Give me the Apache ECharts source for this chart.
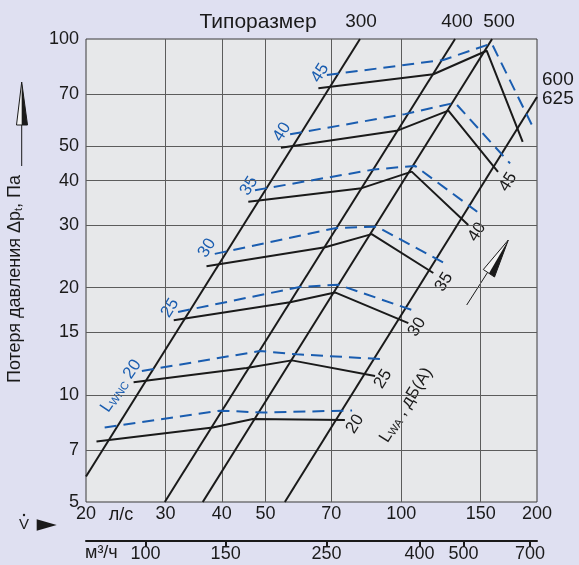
<!DOCTYPE html>
<html>
<head>
<meta charset="utf-8" />
<style>
  html, body { margin: 0; padding: 0; background: #dfe0f1; }
  #chart { width: 579px; height: 565px; }
</style>
<script src="https://cdn.jsdelivr.net/npm/echarts@6/dist/echarts.min.js"></script>
</head>
<body>
<div id="chart"></div>
<script>
// axes: volume flow in l/s (log), pressure loss in Pa (log)
var xTicks = [20, 30, 40, 50, 70, 100, 150, 200];
var yTicks = [5, 7, 10, 15, 20, 30, 40, 50, 70, 100];
var xGrid = [30, 40, 50, 70, 100, 150];
var yGrid = [7, 10, 15, 20, 30, 40, 50, 70];
var m3hTicks = [100, 150, 250, 400, 500, 700];

// size lines (Типоразмер), [l/s, Pa]
var size300 = [[20, 5.9], [81, 100]];
var size400 = [[29.9, 5], [131.6, 100]];
var size500 = [[36.3, 5], [159, 100]];
var size625 = [[55.2, 5], [200, 68.7]];

// sound power L_WA, dB(A) - solid lines
var lwa20 = [[21.1, 7.4], [38.2, 8.1], [46.9, 8.55], [75, 8.5]];
var lwa25 = [[25.5, 10.85], [45.4, 11.9], [57.2, 12.5], [87.5, 11.3]];
var lwa30 = [[31.3, 16.2], [56.7, 18.2], [71.3, 19.4], [103.7, 15.9]];
var lwa35 = [[37, 23], [67.8, 26], [86, 28.3], [117.8, 22]];
var lwa40 = [[45.8, 34.9], [81.7, 38.1], [105.5, 42.4], [140.8, 30]];
var lwa45 = [[54.1, 49.5], [97.7, 55.2], [127.2, 62.9], [163.9, 42.3]];
var lwa50 = [[65.5, 72.7], [117.8, 79.6], [154.7, 92.7], [185.9, 51.4]];

// L_WNC - dashed lines
var nc15 = [[22, 8.1], [39.6, 9.03], [49.4, 8.92], [77.8, 9.04]];
var nc20 = [[26.6, 11.67], [48.6, 13.28], [58.7, 13], [91.2, 12.6]];
var nc25 = [[32, 17.1], [59.6, 20.1], [72.5, 20.4], [107.3, 17.2]];
var nc30 = [[38.6, 24.9], [71.3, 29.4], [88.2, 29.7], [125, 23.4]];
var nc35 = [[47.4, 37.6], [87.1, 43], [107.3, 44], [147.4, 32.7]];
var nc40 = [[56.7, 54], [101.9, 61.5], [131.6, 66.2], [174.3, 44.7]];
var nc45 = [[68.4, 79.2], [123.9, 87.3], [158.7, 97.2], [195.7, 56.7]];

var INK = '#1a1a1a';
var BLUE = '#1a5db0';
var FONT = '"Liberation Sans", Arial, sans-serif';
var ROT = 58 * Math.PI / 180;

function line(data, color, type) {
    return {
        type: 'line', data: data, symbol: 'none', silent: true,
        lineStyle: { color: color, width: 2, type: type }
    };
}

var series = [
    line(size300, INK, 'solid'), line(size400, INK, 'solid'),
    line(size500, INK, 'solid'), line(size625, INK, 'solid'),
    line(lwa20, INK, 'solid'), line(lwa25, INK, 'solid'), line(lwa30, INK, 'solid'),
    line(lwa35, INK, 'solid'), line(lwa40, INK, 'solid'), line(lwa45, INK, 'solid'),
    line(lwa50, INK, 'solid'),
    line(nc15, BLUE, [12, 7]), line(nc20, BLUE, [12, 7]), line(nc25, BLUE, [12, 7]),
    line(nc30, BLUE, [12, 7]), line(nc35, BLUE, [12, 7]), line(nc40, BLUE, [12, 7]),
    line(nc45, BLUE, [12, 7])
];

function txt(x, y, text, opt) {
    opt = opt || {};
    return {
        type: 'text', x: x, y: y, rotation: opt.rot || 0, silent: true,
        style: {
            text: text, fill: opt.color || INK,
            font: (opt.size || 17) + 'px ' + FONT,
            align: opt.align || 'center', verticalAlign: 'middle',
            rich: opt.rich
        }
    };
}

var sub = { s: { fontSize: 11, verticalAlign: 'bottom', padding: [7, 0, 0, 0] } };

var graphics = [
    txt(258, 22, 'Типоразмер', { size: 21 }),
    txt(361, 22, '300', { size: 19 }),
    txt(457, 22, '400', { size: 19 }),
    txt(499, 22, '500', { size: 19 }),
    txt(542, 80, '600', { size: 19, align: 'left' }),
    txt(542, 99, '625', { size: 19, align: 'left' }),
    // L_WA labels
    txt(355, 424, '20', { rot: ROT }),
    txt(383, 379, '25', { rot: ROT }),
    txt(417, 327, '30', { rot: ROT }),
    txt(444, 282, '35', { rot: ROT }),
    txt(477, 232, '40', { rot: ROT }),
    txt(508, 182, '45', { rot: ROT }),
    txt(406, 405, '{s0|L}{s|WA} , дБ(A)', { rot: ROT, rich: sub }),
    // L_WNC labels
    txt(121, 386, '{s0|L}{s|WNC} 20', { rot: 56 * Math.PI / 180, color: BLUE, rich: sub }),
    txt(170, 308, '25', { rot: ROT, color: BLUE }),
    txt(207, 248, '30', { rot: ROT, color: BLUE }),
    txt(249, 186, '35', { rot: ROT, color: BLUE }),
    txt(282, 132, '40', { rot: ROT, color: BLUE }),
    txt(320, 73, '45', { rot: ROT, color: BLUE }),
    // y axis title and arrow
    txt(15, 279, 'Потеря давления Δp{s|t}, Па', { size: 18, rot: Math.PI / 2, rich: sub }),
    { type: 'line', silent: true, shape: { x1: 21.7, y1: 166, x2: 21.7, y2: 125 }, style: { stroke: INK, lineWidth: 1 } },
    { type: 'polygon', silent: true, shape: { points: [[21.7, 82], [16.5, 125], [27.5, 125]] }, style: { fill: '#f4f4f4', stroke: INK, lineWidth: 1 } },
    { type: 'polygon', silent: true, shape: { points: [[21.7, 82], [21.7, 125], [27.5, 125]] }, style: { fill: INK } },
    // diagonal arrow
    { type: 'line', silent: true, shape: { x1: 466.7, y1: 305, x2: 500, y2: 253 }, style: { stroke: INK, lineWidth: 1 } },
    { type: 'polygon', silent: true, shape: { points: [[508.3, 240], [483.3, 269.5], [494.5, 277]] }, style: { fill: '#f4f4f4', stroke: INK, lineWidth: 1 } },
    { type: 'polygon', silent: true, shape: { points: [[508.3, 240], [489, 273.3], [494.5, 277]] }, style: { fill: INK } },
    // flow symbol
    txt(24, 525, 'V', { size: 15 }),
    { type: 'circle', silent: true, shape: { cx: 24, cy: 515, r: 1.2 }, style: { fill: INK } },
    { type: 'polygon', silent: true, shape: { points: [[36.7, 519.3], [56.7, 525], [36.7, 530.7]] }, style: { fill: INK } },
    txt(121, 515, 'л/с', { size: 18 }),
    txt(85, 553, 'м³/ч', { size: 18, align: 'left' })
];

var chart = echarts.init(document.getElementById('chart'), null, { renderer: 'canvas' });
chart.setOption({
    animation: false,
    backgroundColor: '#dfe0f1',
    grid: {
        left: 86, right: 42, top: 39, bottom: 63, containLabel: false, outerBoundsMode: 'none',
        show: true, backgroundColor: '#e7e8ea', borderColor: '#3a3a3a', borderWidth: 1
    },
    xAxis: [{
        type: 'log', logBase: 10, min: 20, max: 200,
        axisLine: { show: false },
        axisTick: { show: false, customValues: xGrid },
        axisLabel: { customValues: xTicks, color: INK, fontSize: 18, fontFamily: FONT, margin: 3 },
        splitLine: { show: true, lineStyle: { color: '#5c5c5c', width: 1 } }
    }, {
        type: 'log', logBase: 10, min: 74, max: 725, position: 'bottom', offset: 39,
        axisLine: { show: true, lineStyle: { color: INK, width: 2 } },
        axisTick: { show: true, customValues: m3hTicks, length: 6, lineStyle: { color: INK, width: 2 } },
        axisLabel: { customValues: m3hTicks, color: INK, fontSize: 18, fontFamily: FONT, margin: 4 },
        splitLine: { show: false }
    }],
    yAxis: {
        type: 'log', logBase: 10, min: 5, max: 100,
        axisLine: { show: false },
        axisTick: { show: false, customValues: yGrid },
        axisLabel: { customValues: yTicks, color: INK, fontSize: 18, fontFamily: FONT, margin: 7 },
        splitLine: { show: true, lineStyle: { color: '#5c5c5c', width: 1 } }
    },
    series: series,
    graphic: graphics
});
</script>
</body>
</html>
